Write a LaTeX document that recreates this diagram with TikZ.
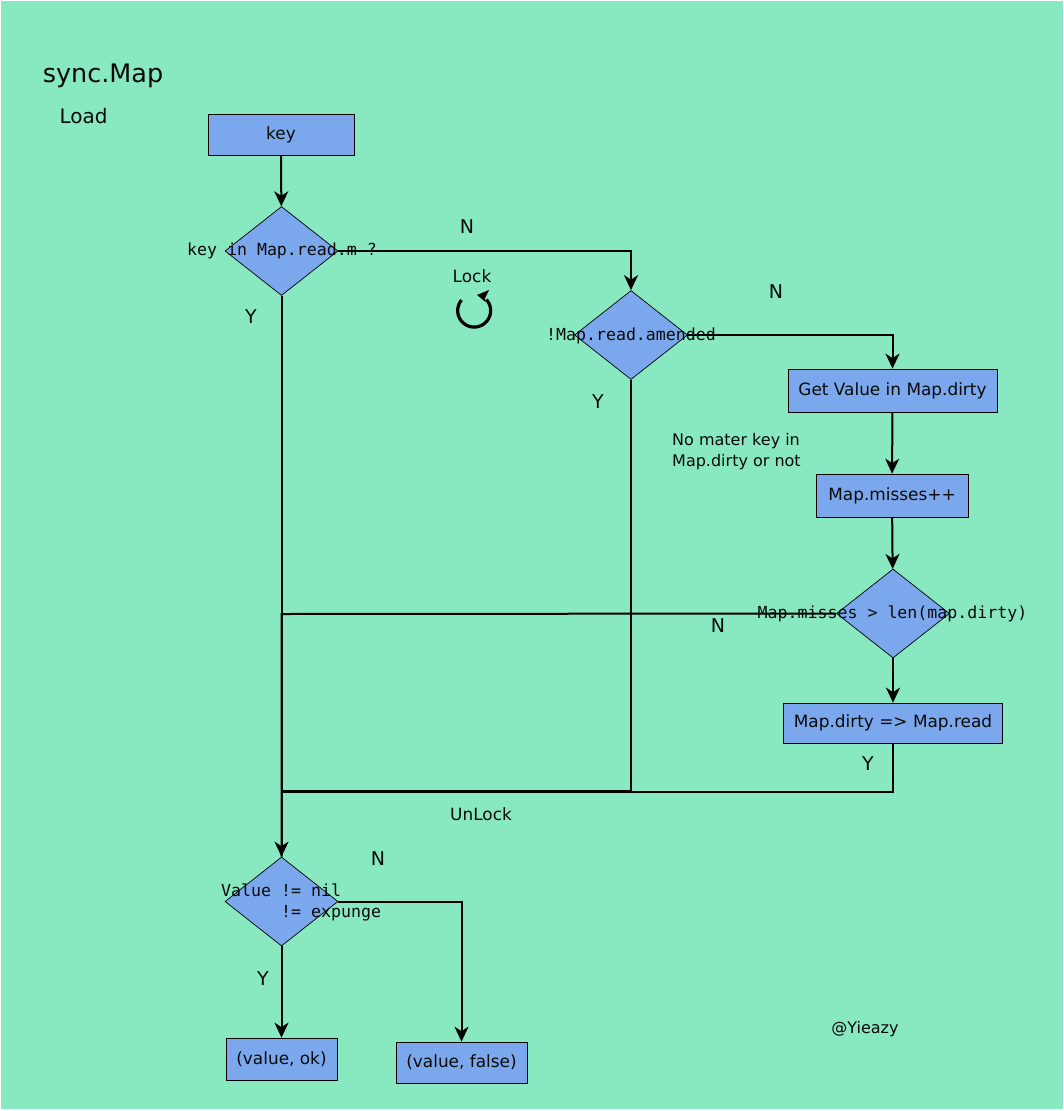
\documentclass[tikz,border=0pt]{standalone}
\usepackage{fontspec}
\setmainfont{DejaVu Sans}
\newfontfamily\monof{DejaVu Sans Mono}
\usetikzlibrary{shapes.geometric,arrows.meta}
\definecolor{bgc}{HTML}{88E8C0}
\definecolor{boxc}{HTML}{7BA8EC}
\definecolor{inkc}{HTML}{0A0A0A}
\newcommand{\fsz}[1]{\fontsize{#1}{21}\selectfont}
\tikzset{
  x=1pt,y=-1pt,
  boxn/.style={draw=black,line width=0.7pt,fill=boxc,inner sep=0pt,text=inkc,font=\fsz{16.9}},
  dia/.style={diamond,draw=black,line width=0.7pt,fill=boxc,inner sep=0pt,minimum width=113pt,minimum height=89pt},
  mono/.style={text=inkc,font=\monof\fsz{16.6},inner sep=0pt},
  lab/.style={text=inkc,font=\fsz{16.9},inner sep=0pt},
  yn/.style={text=inkc,font=\fsz{19},inner sep=0pt},
  conn/.style={draw=black,line width=2pt,-{Stealth[length=15pt,width=14pt,inset=4.5pt]}},
  plainc/.style={draw=black,line width=2pt}
}
\begin{document}
\begin{tikzpicture}
\useasboundingbox (0,0) rectangle (1064,1111);
\fill[white] (0,0) rectangle (1064,1111);
\fill[bgc] (1,1) rectangle (1063,1109);
\node[boxn,minimum width=146pt,minimum height=41pt] (key) at (281,134.5) {key};
\node[dia] (d1) at (281.5,251) {};
\node[dia] (d2) at (631,335) {};
\node[dia] (d3) at (893,613.5) {};
\node[dia] (d4) at (281.5,901.5) {};
\node[boxn,minimum width=209pt,minimum height=43pt] (get) at (892.5,390.5) {Get Value in Map.dirty};
\node[boxn,minimum width=152pt,minimum height=43pt] (miss) at (892,495.5) {Map.misses++};
\node[boxn,minimum width=219pt,minimum height=40pt] (dirty) at (893,723) {Map.dirty => Map.read};
\node[boxn,minimum width=111pt,minimum height=42pt] (vok) at (281.5,1059) {(value, ok)};
\node[boxn,minimum width=131pt,minimum height=41pt] (vfalse) at (461.5,1062.5) {(value, false)};
\draw[conn] (key) -- (d1);
\draw[conn] (d1.east) -| (d2.north);
\draw[conn] (d1.south) -- (d4.north);
\draw[conn] (d2.east) -| (get.north);
\draw[conn] (get) -- (miss);
\draw[conn] (miss) -- (d3);
\draw[conn] (d3) -- (dirty);
\coordinate (j1) at (281.5,614);
\coordinate (j2) at (631,791);
\coordinate (j3) at (893,792);
\coordinate (j4) at (281.5,791);
\coordinate (j5) at (281.5,792);
\draw[plainc] (d3.west) -- (j1) -- (d4.north);
\draw[plainc] (d2.south) -- (j2) -- (j4);
\draw[plainc] (dirty.south) -- (j3) -- (j5);
\draw[conn] (d4.east) -| (vfalse.north);
\draw[conn] (d4.south) -- (vok.north);
\node[mono] (t1) at (282,251) {key in Map.read.m ?};
\node[mono] (t2) at (631,336) {!Map.read.amended};
\node[mono] (t3) at (892.5,614) {Map.misses > len(map.dirty)};
\node[mono,anchor=west,align=left] (t4) at (221,902.5) {Value != nil\\\mbox{\phantom{Value\ }}!= expunge};
\node[text=inkc,font=\fsz{25.5},inner sep=0pt] (title) at (103,76) {sync.Map};
\node[text=inkc,font=\fsz{20},inner sep=0pt] (load) at (83.5,116.5) {Load};
\node[yn] (n1) at (467,226.5) {N};
\node[yn] (y1) at (251,316.5) {Y};
\node[lab] (lock) at (472,276.5) {Lock};
\node[yn] (n2) at (776,291.5) {N};
\node[yn] (y2) at (598,401.5) {Y};
\node[lab,font=\fsz{16},align=left,anchor=west] (note) at (672,452) {No mater key in\\Map.dirty or not};
\node[yn] (n3) at (718,625.5) {N};
\node[yn] (y3) at (868,763.5) {Y};
\node[lab] (unlock) at (481,814.5) {UnLock};
\node[yn] (n4) at (378,858.5) {N};
\node[yn] (y4) at (263,978.5) {Y};
\node[lab,font=\fsz{16}] (by) at (865,1029.5) {@Yieazy};
\draw[black,line width=3.2pt] (461.5,300) arc[start angle=140,end angle=402,radius=16.5pt];
\fill[black] (477,295) -- (489,290) -- (485,298) -- (485.5,302) -- cycle;
\end{tikzpicture}
\end{document}
